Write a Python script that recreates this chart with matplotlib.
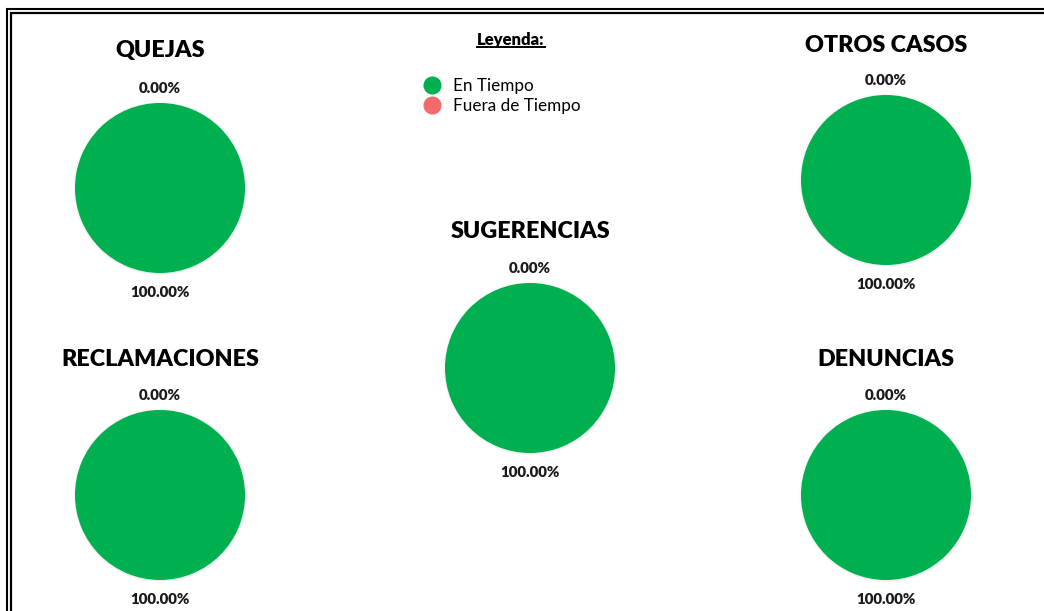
import matplotlib

matplotlib.use('Agg')
import matplotlib.pyplot as plt
import numpy as np
from matplotlib.lines import Line2D
from matplotlib.patches import Circle, Rectangle

plt.rcParams['font.family'] = ['Lato', 'DejaVu Sans']

# datos
categorias = ['QUEJAS', 'OTROS CASOS', 'SUGERENCIAS', 'RECLAMACIONES', 'DENUNCIAS']
fuera_tiempo = [0.0, 0.0, 0.0, 0.0, 0.0]
en_tiempo = [100.0, 100.0, 100.0, 100.0, 100.0]
leyenda = ['En Tiempo', 'Fuera de Tiempo']

verde = '#00B050'
rojo = '#F26A6A'

W, H = 1044, 611
fig = plt.figure(figsize=(W / 100, H / 100), dpi=100)

# centros (px) y radio de cada torta
centros = [(160, 188), (886, 180), (530, 368), (160, 495), (886, 495)]
titulos_y = [51, 45, 232, 359, 359]
R = 85
M = 130  # media caja del eje en px

for i, cat in enumerate(categorias):
    cx, cy = centros[i]
    ax = fig.add_axes([(cx - M) / W, (H - cy - M) / H, 2 * M / W, 2 * M / H])
    lim = M / R

    # sombra suave
    for k, a in zip([1.03, 1.018, 1.008], [0.025, 0.04, 0.06]):
        ax.add_patch(Circle((0.004, -0.006), k, color='#808080', alpha=a, lw=0, zorder=0))

    vals = [fuera_tiempo[i], en_tiempo[i]]
    wedges, _ = ax.pie(vals, colors=[rojo, verde], startangle=90, counterclock=False,
                       radius=1.0, wedgeprops=dict(linewidth=0), frame=True)
    ax.set_xlim(-lim, lim)
    ax.set_ylim(-lim, lim)
    ax.set_aspect('equal')
    ax.axis('off')
    for w, v in zip(wedges, vals):
        ang = np.deg2rad((w.theta1 + w.theta2) / 2)
        d = 1.21 if v > 0 else 1.19
        ax.text(d * np.cos(ang), d * np.sin(ang) - 0.02, f'{v:.2f}%', ha='center', va='center',
                fontsize=10.8, fontweight='heavy', color='#1a1a1a')

    fig.text(cx / W, 1 - titulos_y[i] / H, cat, ha='center', va='center',
             fontsize=16.8, fontweight='heavy', color='black')

# leyenda
t = fig.text(511 / W, 1 - 40 / H, 'Leyenda:', ha='center', va='center',
             fontsize=12, fontweight='heavy', color='black')
fig.canvas.draw()
bb = t.get_window_extent().transformed(fig.transFigure.inverted())
fig.add_artist(Line2D([bb.x0, bb.x1], [bb.y0 + 0.001, bb.y0 + 0.001], color='black', lw=1.4,
                      transform=fig.transFigure))

handles = [Line2D([], [], marker='o', ls='', markerfacecolor=c, markeredgecolor=c, markersize=12)
           for c in [verde, rojo]]
fig.legend(handles, leyenda, loc='upper left', bbox_to_anchor=(411 / W, 1 - 69 / H),
           frameon=False, fontsize=12.3, handletextpad=0.55, labelspacing=0.25,
           borderpad=0, handlelength=1.4)

# doble borde
for x0, y0, lw in [(7, 9, 1.5), (11, 13, 1.6)]:
    fig.add_artist(Rectangle((x0 / W, -0.05), 1.2, 1 - y0 / H + 0.05, fill=False,
                             edgecolor='black', lw=lw, transform=fig.transFigure))

fig.savefig('out.png', dpi=100)
